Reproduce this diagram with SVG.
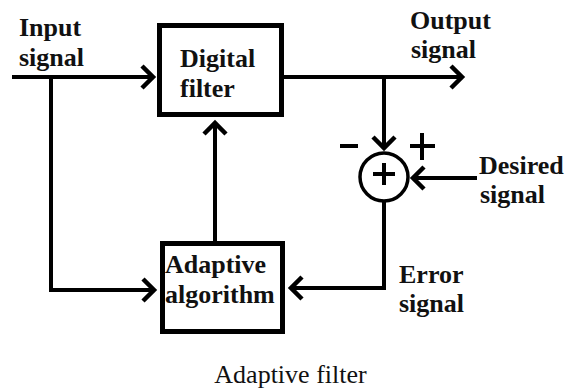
<svg xmlns="http://www.w3.org/2000/svg" width="571" height="390" viewBox="0 0 571 390">
<defs>
<marker id="arr" markerUnits="userSpaceOnUse" markerWidth="30" markerHeight="30" refX="0" refY="0" orient="auto" overflow="visible">
<path d="M-11,-11 L0,0 L-11,11" fill="none" stroke="#000" stroke-width="4.5" stroke-linejoin="miter" stroke-miterlimit="10"/>
</marker>
</defs>
<style>
.box{fill:#fff;stroke:#000;stroke-width:5}
.ln{fill:none;stroke:#000;stroke-width:4}
.lbl{font-family:"Liberation Serif","Times New Roman",serif;font-weight:bold;font-size:26px;fill:#111}
.cap{font-family:"Liberation Serif","Times New Roman",serif;font-size:26px;fill:#111}
</style>
<rect width="571" height="390" fill="#fff"/>
<g id="connectors">
<line class="ln" x1="12" y1="77" x2="153" y2="77" marker-end="url(#arr)"/>
<polyline class="ln" points="51,77 51,290 154,290" marker-end="url(#arr)"/>
<line class="ln" x1="215" y1="241" x2="215" y2="123" marker-end="url(#arr)"/>
<line class="ln" x1="284" y1="77" x2="462" y2="77" marker-end="url(#arr)"/>
<line class="ln" x1="384" y1="77" x2="384" y2="148" marker-end="url(#arr)"/>
<line class="ln" x1="477" y1="178" x2="413" y2="178" marker-end="url(#arr)"/>
<polyline class="ln" points="384,201 384,288 291,288" marker-end="url(#arr)"/>
</g>
<g id="digital-filter">
<rect class="box" x="159.5" y="25.5" width="122" height="89"/>
<text class="lbl" x="180" y="67">Digital</text>
<text class="lbl" x="180" y="97">filter</text>
</g>
<g id="adaptive-algorithm">
<rect class="box" x="162.5" y="243.5" width="120" height="88"/>
<text class="lbl" x="165" y="273">Adaptive</text>
<text class="lbl" x="165" y="303">algorithm</text>
</g>
<g id="summer">
<circle cx="384" cy="177" r="24" fill="#fff" stroke="#000" stroke-width="3.5"/>
<path d="M373,174 H395 M384,163 V185" stroke="#000" stroke-width="4" fill="none"/>
<path d="M340,146 H358" stroke="#000" stroke-width="4"/>
<path d="M410,146 H435 M422,133 V160" stroke="#000" stroke-width="4" fill="none"/>
</g>
<g id="labels">
<text class="lbl" x="19" y="36">Input</text>
<text class="lbl" x="19" y="66">signal</text>
<text class="lbl" x="410" y="29">Output</text>
<text class="lbl" x="411" y="58">signal</text>
<text class="lbl" x="479" y="174">Desired</text>
<text class="lbl" x="480" y="203">signal</text>
<text class="lbl" x="399" y="283">Error</text>
<text class="lbl" x="399" y="312">signal</text>
<text class="cap" x="290.5" y="383" text-anchor="middle">Adaptive filter</text>
</g>
</svg>
